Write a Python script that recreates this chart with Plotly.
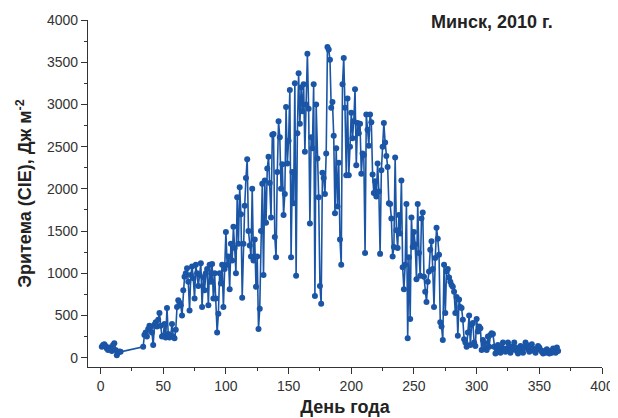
import plotly.graph_objects as go

# Day-of-year and daily erythemal dose (J m-2)
days = list(range(1, 17)) + list(range(34, 366))

v_early = [130, 150, 160, 140, 110, 90, 120, 100, 80, 150, 170, 90, 30, 60, 75, 70]
v_34_60 = [130, 270, 300, 250, 340, 380, 360, 300, 150, 390, 420, 370, 450, 530,
           380, 250, 260, 400, 240, 590, 280, 240, 260, 400, 250, 230, 330]
v_61_100 = [600, 680, 650, 620, 500, 800, 960, 1000, 1060, 900,
            560, 980, 1080, 940, 700, 1100, 1000, 850, 980, 1120,
            600, 950, 800, 1000, 1050, 620, 1100, 900, 1110, 700,
            1000, 700, 300, 520, 1000, 880, 1100, 600, 1050, 1490]
v_101_120 = [1100, 1200, 810, 1350, 1150, 1550, 1300, 1000, 1900, 1350,
             2020, 1700, 710, 1350, 1800, 2130, 2350, 1500, 1330, 1200]
v_121_150 = [2000, 1150, 1400, 840, 1200, 340, 580, 1500, 2060, 980,
             2100, 1600, 2240, 2380, 2070, 1660, 2640, 2650, 1430, 1190,
             2200, 2800, 2610, 2000, 2290, 1690, 1940, 2970, 2300, 2570]
v_151_180 = [3170, 1190, 2200, 1830, 3250, 970, 2660, 3370, 2770, 3200,
             2920, 3240, 2440, 3000, 3600, 2950, 1590, 2610, 2480, 3240,
             730, 3000, 2360, 1900, 850, 640, 2190, 2130, 1940, 2420]
v_181_210 = [3680, 3650, 3530, 2960, 3030, 2630, 1710, 2480, 1790, 2310,
             1400, 1100, 3240, 3550, 2960, 2160, 3070, 2160, 2500, 2900,
             2600, 2800, 3180, 2280, 2780, 2660, 2770, 2180, 2420, 2400]
v_211_240 = [1240, 2880, 2700, 2510, 2880, 2790, 2170, 1950, 2090, 1910,
             2300, 1970, 1230, 2220, 2500, 2780, 2550, 2390, 2260, 1830,
             1820, 1650, 1200, 1310, 2370, 1510, 1300, 1690, 1470, 2100]
v_241_270 = [1070, 810, 1100, 1820, 230, 1190, 460, 1660, 1310, 1490,
             1340, 930, 1820, 1240, 970, 1650, 1720, 960, 780, 660,
             900, 1020, 1280, 1380, 1050, 600, 1180, 1540, 1410, 1220]
v_271_300 = [420, 370, 210, 1100, 530, 1020, 1050, 950, 900, 860,
             840, 780, 530, 720, 260, 690, 600, 590, 450, 220,
             180, 130, 300, 500, 150, 390, 410, 180, 140, 460]
v_301_330 = [310, 370, 350, 90, 210, 180, 120, 90, 250, 130,
             270, 290, 280, 130, 50, 100, 150, 80, 60, 120,
             180, 100, 70, 110, 180, 140, 60, 90, 130, 180]
v_331_365 = [120, 80, 50, 100, 140, 90, 60, 120, 180, 150,
             100, 70, 130, 160, 110, 80, 60, 100, 140, 120,
             90, 70, 50, 80, 60, 100, 70, 50, 80, 60,
             110, 90, 60, 120, 80]

values = (v_early + v_34_60 + v_61_100 + v_101_120 + v_121_150 + v_151_180 +
          v_181_210 + v_211_240 + v_241_270 + v_271_300 + v_301_330 + v_331_365)

x_ticks = [0, 50, 100, 150, 200, 250, 300, 350, 400]
y_ticks = [0, 500, 1000, 1500, 2000, 2500, 3000, 3500, 4000]

color = "#1a55a6"
fig = go.Figure()
fig.add_trace(go.Scatter(
    x=days, y=values, mode="lines+markers",
    line=dict(color=color, width=1.6),
    marker=dict(color=color, size=6),
    showlegend=False, cliponaxis=False,
))

font_family = "Liberation Sans, Arial, sans-serif"
axis_common = dict(
    showline=True, linecolor="#333333", linewidth=1.3,
    ticks="outside", ticklen=6, tickwidth=1.3, tickcolor="#333333",
    showgrid=False, zeroline=False, automargin=False,
    tickfont=dict(family=font_family, size=14, color="#333333"),
)
title_font = dict(size=18, family=font_family, color="#222222")

fig.update_layout(
    width=618, height=418,
    margin=dict(l=80, r=24, t=12, b=59),
    paper_bgcolor="white", plot_bgcolor="white",
    font=dict(family=font_family, color="#222222"),
    xaxis=dict(
        range=[-10, 400], tickvals=x_ticks,
        minor=dict(ticks="outside", ticklen=3, tickwidth=1.3, dtick=25, tick0=0, tickcolor="#333333"),
        title=dict(text="<b>День года</b>", font=title_font, standoff=7),
        **axis_common,
    ),
    yaxis=dict(
        range=[-110, 4000], tickvals=y_ticks,
        minor=dict(ticks="outside", ticklen=3, tickwidth=1.3, dtick=250, tick0=0, tickcolor="#333333"),
        title=dict(text="<b>Эритема (CIE), Дж м<sup>-2</sup></b>", font=title_font, standoff=10),
        **axis_common,
    ),
    annotations=[dict(
        text="<b>Минск, 2010 г.</b>", x=0.908, y=0.994, xref="paper", yref="paper",
        xanchor="right", yanchor="middle", showarrow=False,
        font=title_font,
    )],
)

fig.write_html("out.html")
